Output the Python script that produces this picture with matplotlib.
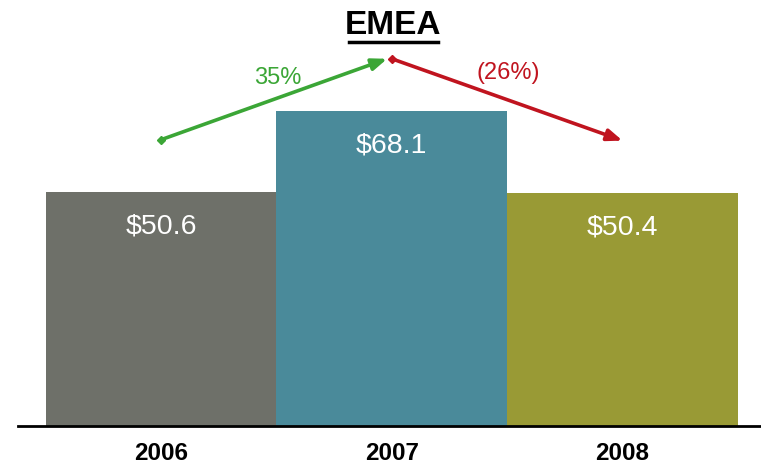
import matplotlib
matplotlib.use("Agg")
import matplotlib.pyplot as plt

years = ["2006", "2007", "2008"]
values = [50.6, 68.1, 50.4]
value_labels = ["$50.6", "$68.1", "$50.4"]
changes = ["35%", "(26%)"]
bar_colors = ["#6e7069", "#4a8a9a", "#999a35"]
change_colors = ["#3ba636", "#c0141f"]

plt.rcParams["font.family"] = ["Liberation Sans", "DejaVu Sans"]

W, H = 761, 464
fig = plt.figure(figsize=(W / 100, H / 100), dpi=100)
ax = fig.add_axes([18 / W, (H - 427) / H, (761 - 18) / W, 427 / H])
x = list(range(len(years)))
ax.bar(x, values, width=1.0, color=bar_colors, zorder=2)
ax.set_xlim(-0.62, 2.6)
ax.set_ylim(0, 427 / 4.625)
for s in ["top", "right", "left"]:
    ax.spines[s].set_visible(False)
ax.spines["bottom"].set_linewidth(2)
ax.set_yticks([])
ax.set_xticks(x)
ax.set_xticklabels(years, fontsize=17.5, fontweight="bold")
ax.tick_params(axis="x", length=0, pad=11)

for xi, v, lab in zip(x, values, value_labels):
    ax.annotate(lab, (xi, v), xytext=(0, -24), textcoords="offset points",
                ha="center", va="center", color="white", fontsize=20.5)

off = 11.3
for i in range(len(values) - 1):
    p0 = (x[i], values[i] + off)
    p1 = (x[i + 1] - 0.02 if i == 0 else x[i + 1], values[i + 1] + off)
    c = change_colors[i]
    ax.annotate("", xy=p1, xytext=p0,
                arrowprops=dict(arrowstyle="-|>,head_length=0.9,head_width=0.35",
                                color=c, lw=2.6, shrinkA=0, shrinkB=0))
    ax.plot([p0[0]], [p0[1]], marker="D", color=c, markersize=4.5)

ax.text(0.506, 75.5, changes[0], color=change_colors[0], fontsize=17, ha="center", va="center")
ax.text(1.503, 76.5, changes[1], color=change_colors[1], fontsize=17, ha="center", va="center")

fig.text(393 / W, 1 - 25 / H, "EMEA", fontsize=24, fontweight="bold", ha="center", va="center")
fig.add_artist(plt.Line2D([349 / W, 438 / W], [1 - 43 / H, 1 - 43 / H], color="black", lw=2.5))

fig.savefig("out.png", dpi=100)
